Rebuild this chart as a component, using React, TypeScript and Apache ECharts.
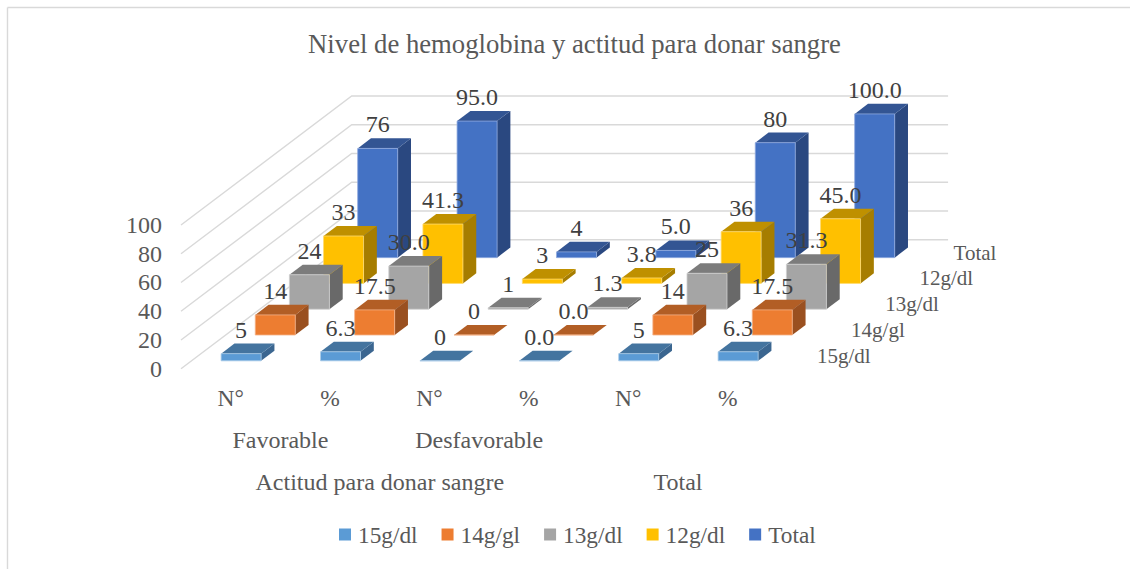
import React, { useEffect, useRef } from "react";
import * as echarts from "echarts";

const titleText = "Nivel de hemoglobina y actitud para donar sangre";
const categories = ["N°", "%", "N°", "%", "N°", "%"];
const groupLabels: Record<number, string> = { 1: "Favorable", 3: "Desfavorable" };
const outerLabels: Record<number, string> = { 2: "Actitud para donar sangre", 5: "Total" };
const seriesNames = ["15g/dl", "14g/gl", "13g/dl", "12g/dl", "Total"];
const v15 = [5, 6.3, 0, 0.0, 5, 6.3];
const v14 = [14, 17.5, 0, 0.0, 14, 17.5];
const v13 = [24, 30.0, 1, 1.3, 25, 31.3];
const v12 = [33, 41.3, 3, 3.8, 36, 45.0];
const vTotal = [76, 95.0, 4, 5.0, 80, 100.0];
const allValues = [v15, v14, v13, v12, vTotal];
const yTicks = [0, 20, 40, 60, 80, 100];

const frontColors = ["#5B9BD5", "#ED7D31", "#A5A5A5", "#FFC000", "#4472C4"];
const topColors = ["#44749F", "#B25E25", "#7C7C7C", "#BF9000", "#335593"];
const sideColors = ["#3B6690", "#9A5020", "#696969", "#A67D00", "#2A4880"];
const edgeColors = ["#A9CBE9", "#F5B48A", "#CFCFCF", "#FFDB70", "#8FA9DE"];

const FONT = "'Liberation Serif', 'Times New Roman', serif";
const DEPTH_X = 34.14;
const DEPTH_Y = -25.8;
const BAR_RATIO = 0.4024;
const GAP_D = 0.305;
const BAR_D = 0.39;

function barRender(si: number) {
  return (params: any, api: any) => {
    const cs = params.coordSys;
    const band = cs.width / categories.length;
    const idx = api.value(0);
    const val = api.value(1);
    const base = api.coord([idx, 0]);
    const top = api.coord([idx, val]);
    const w = band * BAR_RATIO;
    const sd = si + GAP_D;
    const x0 = base[0] - w / 2 + sd * DEPTH_X;
    const x1 = x0 + w;
    const yb = base[1] + sd * DEPTH_Y;
    const yt = top[1] + sd * DEPTH_Y;
    const dx = BAR_D * DEPTH_X;
    const dy = BAR_D * DEPTH_Y;
    const children: any[] = [
      {
        type: "polygon",
        shape: { points: [[x1, yb], [x1 + dx, yb + dy], [x1 + dx, yt + dy], [x1, yt]] },
        style: { fill: sideColors[si] },
      },
      {
        type: "polygon",
        shape: { points: [[x0, yt], [x1, yt], [x1 + dx, yt + dy], [x0 + dx, yt + dy]] },
        style: { fill: topColors[si] },
      },
      {
        type: "polygon",
        shape: { points: [[x0, yb], [x1, yb], [x1, yt], [x0, yt]] },
        style: { fill: frontColors[si], stroke: edgeColors[si], lineWidth: 0.8 },
      },
      {
        type: "text",
        z2: 50,
        style: {
          text: idx % 2 === 1 ? val.toFixed(1) : String(val),
          x: x0 + w / 2,
          y: yt - 24,
          textAlign: "center",
          textVerticalAlign: "middle",
          font: `24px ${FONT}`,
          fill: "#404040",
        },
      },
    ];
    if (params.dataIndex === categories.length - 1) {
      const mid = si + 0.5;
      children.push({
        type: "text",
        style: {
          text: seriesNames[si],
          x: cs.x + cs.width + mid * DEPTH_X + 22.5,
          y: cs.y + cs.height + mid * DEPTH_Y,
          textAlign: "left",
          textVerticalAlign: "middle",
          font: `21px ${FONT}`,
          fill: "#595959",
        },
      });
    }
    return { type: "group", children };
  };
}

function wallRender(params: any, api: any) {
  const cs = params.coordSys;
  const p = api.coord([0, api.value(1)]);
  const fx = cs.x;
  const bx = cs.x + seriesNames.length * DEPTH_X;
  const by = p[1] + seriesNames.length * DEPTH_Y;
  return {
    type: "polyline",
    shape: { points: [[fx, p[1]], [bx, by], [bx + cs.width, by]] },
    style: { stroke: "#D9D9D9", lineWidth: 1.4, fill: "none" },
  };
}

function valueLabelAxis(labels: Record<number, string>, margin: number, size: number) {
  return {
    type: "value",
    gridIndex: 0,
    position: "bottom",
    min: 0,
    max: 6,
    interval: 1,
    axisLine: { show: false },
    axisTick: { show: false },
    splitLine: { show: false },
    axisLabel: {
      margin,
      hideOverlap: false,
      formatter: (v: number) => labels[v] ?? "",
      fontFamily: FONT,
      fontSize: size,
      color: "#595959",
    },
  };
}

export default function App() {
  const ref = useRef<HTMLDivElement>(null);
  useEffect(() => {
    document.body.style.margin = "0";
    document.body.style.overflow = "hidden";
    const chart = echarts.init(ref.current!, undefined, { renderer: "svg" });
    chart.setOption({
      animation: false,
      backgroundColor: "#ffffff",
      title: {
        text: titleText,
        left: 569.5,
        top: 25,
        textAlign: "center",
        textStyle: { fontFamily: FONT, fontSize: 26.7, fontWeight: "normal", color: "#595959" },
      },
      legend: {
        data: seriesNames,
        left: 334,
        top: 518,
        icon: "rect",
        itemWidth: 12,
        itemHeight: 12,
        itemGap: 24,
        textStyle: { fontFamily: FONT, fontSize: 23.3, color: "#595959", padding: [0, 0, 0, 2] },
      },
      grid: { left: 181, top: 225, width: 596.4, height: 143.7 },
      xAxis: [
        {
          type: "category",
          data: categories,
          axisLine: { show: false },
          axisTick: { show: false },
          axisLabel: { margin: 17, interval: 0, fontFamily: FONT, fontSize: 23.5, color: "#595959" },
        },
        valueLabelAxis(groupLabels, 59, 24),
        valueLabelAxis(outerLabels, 101, 24),
      ],
      yAxis: {
        type: "value",
        min: yTicks[0],
        max: yTicks[yTicks.length - 1],
        interval: 20,
        axisLine: { show: false },
        axisTick: { show: false },
        splitLine: { show: false },
        axisLabel: { margin: 19, fontFamily: FONT, fontSize: 24, color: "#595959" },
      },
      series: [
        {
          type: "custom",
          name: "walls",
          z: 1,
          clip: false,
          silent: true,
          renderItem: wallRender,
          encode: { x: 0, y: 1 },
          data: yTicks.map((t) => [0, t]),
        },
        ...seriesNames.map((name, si) => ({
          type: "custom",
          name,
          z: 2 + (seriesNames.length - si),
          clip: false,
          itemStyle: { color: frontColors[si] },
          renderItem: barRender(si),
          encode: { x: 0, y: 1 },
          data: allValues[si].map((v, i) => [i, v]),
        })),
      ],
      graphic: [
        { type: "line", silent: true, shape: { x1: 7.5, y1: 7.5, x2: 1130, y2: 7.5 }, style: { stroke: "#D9D9D9", lineWidth: 1.4 } },
        { type: "line", silent: true, shape: { x1: 7.5, y1: 7.5, x2: 7.5, y2: 569 }, style: { stroke: "#D9D9D9", lineWidth: 1.4 } },
      ],
    });
    return () => chart.dispose();
  }, []);
  return <div ref={ref} style={{ width: 1130, height: 569 }} />;
}
